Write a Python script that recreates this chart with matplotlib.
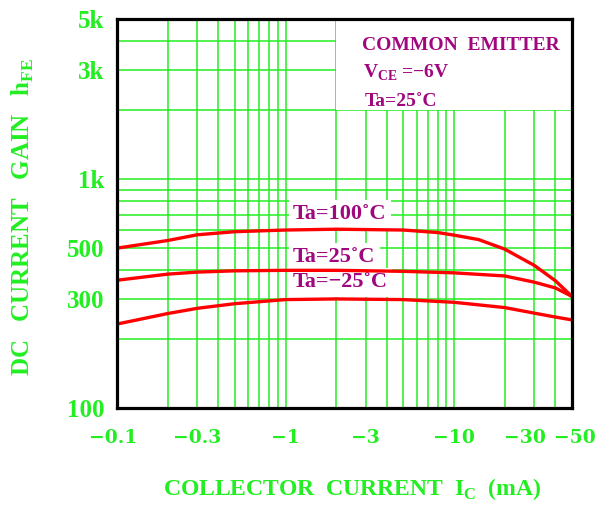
import matplotlib
matplotlib.use("Agg")
import matplotlib.pyplot as plt
from matplotlib.patches import Rectangle
from matplotlib.transforms import ScaledTranslation

# collector current |Ic| in mA and dc current gain hFE
ic_100 = [0.1, 0.2, 0.3, 0.5, 1, 2, 5, 8, 10, 14, 20, 30, 40, 50]
hfe_100 = [500, 540, 572, 590, 600, 605, 600, 585, 570, 545, 495, 420, 360, 308]

ic_25 = [0.1, 0.2, 0.3, 0.5, 1, 2, 5, 10, 20, 30, 40, 50]
hfe_25 = [362, 385, 393, 398, 400, 400, 396, 390, 378, 355, 335, 308]

ic_m25 = [0.1, 0.2, 0.3, 0.5, 1, 2, 5, 10, 20, 30, 40, 50]
hfe_m25 = [233, 259, 273, 286, 298, 300, 298, 290, 275, 260, 250, 243]

xticks = [0.1, 0.3, 1, 3, 10, 30, 50]
xticklabels = ["\u22120.1", "\u22120.3", "\u22121", "\u22123", "\u221210", "\u221230", "\u221250"]
xgrid = [0.2, 0.4, 0.5, 0.6, 0.7, 0.8, 0.9, 2, 4, 5, 6, 7, 8, 9, 20, 40]

yticks = [100, 300, 500, 1000, 3000, 5000]
yticklabels = ["100", "300", "500", "1k", "3k", "5k"]
ygrid = [200, 400, 600, 700, 800, 900, 2000, 4000]

GREEN = "#22ee22"
MAGENTA = "#a0067e"
SERIF = "Liberation Serif"

fig = plt.figure(figsize=(6, 5.07), dpi=100)
ax = fig.add_axes([0.195, 0.195, 0.758, 0.767])

ax.set_xscale("log")
ax.set_yscale("log")
ax.set_xlim(0.1, 50)
ax.set_ylim(100, 5000)

ax.set_xticks(xticks)
ax.set_xticks(xgrid, minor=True)
ax.set_yticks(yticks)
ax.set_yticks(ygrid, minor=True)
ax.set_xticklabels(xticklabels, fontfamily="DejaVu Serif", fontweight="bold",
                   fontsize=13.5, color=GREEN)
ax.set_yticklabels(yticklabels, fontfamily=SERIF, fontweight="bold",
                   fontsize=18, color=GREEN)
ax.tick_params(which="both", length=0)
ax.tick_params(axis="x", pad=15)
ax.tick_params(axis="y", pad=9)
ax.grid(which="both", color=GREEN, lw=1.1, zorder=1)
ax.set_axisbelow(True)

# nudge crowded x labels apart like the original sheet
shifts = {"\u22120.1": -4, "\u221230": -9, "\u221250": 3}
for t in ax.get_xticklabels():
    dx = shifts.get(t.get_text(), 0)
    if dx:
        t.set_transform(t.get_transform() + ScaledTranslation(dx / 100, 0, fig.dpi_scale_trans))

for s in ax.spines.values():
    s.set_linewidth(2.3)
    s.set_zorder(10)

# white panel for the condition text
ax.add_patch(Rectangle((2, 2000), 48, 3000, facecolor="white", edgecolor="none", zorder=2))

ax.plot(ic_100, hfe_100, color="red", lw=2.4, zorder=5, solid_capstyle="round")
ax.plot(ic_25, hfe_25, color="red", lw=2.4, zorder=5, solid_capstyle="round")
ax.plot(ic_m25, hfe_m25, color="red", lw=2.4, zorder=5, solid_capstyle="round")

box = dict(boxstyle="square,pad=0.2", facecolor="white", edgecolor="none")
lab = dict(transform=ax.transAxes, fontfamily=SERIF, fontweight="bold",
           fontsize=16, color=MAGENTA, va="baseline", ha="left", zorder=4)
ax.text(0.387, 0.486, "Ta=100\u02daC", bbox=box, **lab)
ax.text(0.387, 0.375, "Ta=25\u02daC", bbox=box, **lab)
ax.text(0.387, 0.311, "Ta=\u221225\u02daC", bbox=box, **lab)

cond = dict(transform=ax.transAxes, fontfamily=SERIF, fontweight="bold",
            fontsize=14, color=MAGENTA, va="baseline", ha="left", zorder=4)
ax.text(0.538, 0.92, "COMMON  EMITTER", **cond)
ax.text(0.541, 0.851, "V$_{\\mathregular{CE}}$ =\u22126V", **cond)
ax.text(0.545, 0.776, "Ta=25\u02daC", **cond)

fig.text(0.587, 0.024, r"COLLECTOR  CURRENT  I$_{\mathregular{C}}$  (mA)",
         fontfamily=SERIF, fontweight="bold", fontsize=17, color=GREEN,
         ha="center", va="baseline")
fig.text(0.038, 0.572, r"DC   CURRENT   GAIN   h$_{\mathregular{FE}}$",
         fontfamily=SERIF, fontweight="bold", fontsize=18, color=GREEN,
         ha="center", va="center", rotation=90)

fig.savefig("out.png", dpi=100)
